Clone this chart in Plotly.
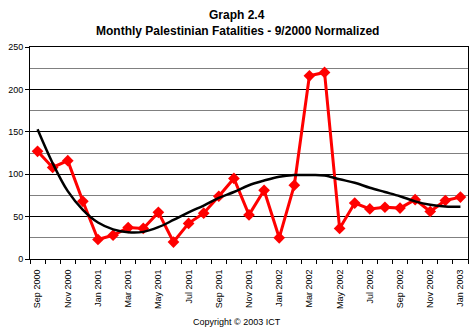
import plotly.graph_objects as go

months = ["Sep 2000", "Oct 2000", "Nov 2000", "Dec 2000", "Jan 2001", "Feb 2001",
          "Mar 2001", "Apr 2001", "May 2001", "Jun 2001", "Jul 2001", "Aug 2001",
          "Sep 2001", "Oct 2001", "Nov 2001", "Dec 2001", "Jan 2002", "Feb 2002",
          "Mar 2002", "Apr 2002", "May 2002", "Jun 2002", "Jul 2002", "Aug 2002",
          "Sep 2002", "Oct 2002", "Nov 2002", "Dec 2002", "Jan 2003"]

fatalities = [127, 108, 116, 68, 23, 28, 37, 36, 55, 20, 42, 54,
              74, 95, 52, 81, 25, 87, 216, 220, 36, 66, 59, 61,
              60, 70, 56, 69, 73]

trend = [153, 113, 80, 58, 43, 35, 31.5, 32, 37.5, 46, 55, 63,
         72, 79, 87, 92.5, 97, 99, 99, 98.5, 94, 90, 84, 79,
         74, 68, 64, 62, 61.5]

tick_text = [m if i % 2 == 0 else "" for i, m in enumerate(months)]

font_main = "Liberation Sans, Arial, sans-serif"

fig = go.Figure()
fig.add_trace(go.Scatter(
    x=months, y=fatalities, mode="lines+markers",
    line=dict(color="#FF0000", width=3),
    marker=dict(symbol="diamond", size=9, color="#FF0000"),
    showlegend=False,
))
fig.add_trace(go.Scatter(
    x=months, y=trend, mode="lines",
    line=dict(color="#000000", width=2.5, shape="spline", smoothing=1),
    showlegend=False,
))

fig.update_layout(
    width=473, height=336,
    margin=dict(l=30, r=5, t=47, b=77),
    paper_bgcolor="white", plot_bgcolor="white",
    font=dict(family=font_main, size=9, color="black"),
)

# Two title lines and the copyright footer
fig.add_annotation(text="<b>Graph 2.4</b>", xref="paper", yref="paper",
                   x=0.473, y=1.151, showarrow=False, yanchor="middle",
                   font=dict(family=font_main, size=12, color="black"))
fig.add_annotation(text="<b>Monthly Palestinian Fatalities - 9/2000 Normalized</b>",
                   xref="paper", yref="paper", x=0.473, y=1.075, showarrow=False,
                   yanchor="middle", font=dict(family=font_main, size=12, color="black"))
fig.add_annotation(text="Copyright © 2003 ICT", xref="paper", yref="paper",
                   x=0.473, y=-0.297, showarrow=False, yanchor="middle",
                   font=dict(family=font_main, size=9, color="black"))

fig.update_xaxes(
    type="category", categoryorder="array", categoryarray=months,
    tickmode="array", tickvals=months, ticktext=tick_text,
    tickangle=-90, tickson="boundaries", ticks="outside", ticklen=4,
    ticklabelstandoff=6,
    tickcolor="black", showline=True, linecolor="black", linewidth=1,
    mirror=True, showgrid=False, range=[-0.5, 28.5],
    tickfont=dict(family=font_main, size=9),
)
fig.update_yaxes(
    range=[0, 250], dtick=50, tick0=0, ticks="outside", ticklen=4,
    tickcolor="black", showline=True, linecolor="black", linewidth=1,
    mirror=True, showgrid=True, gridcolor="black", gridwidth=1,
    zeroline=False,
    minor=dict(dtick=25, tick0=0, showgrid=True, gridcolor="#808080", gridwidth=1, ticks=""),
    tickfont=dict(family=font_main, size=9),
)

fig.write_html("out.html")
